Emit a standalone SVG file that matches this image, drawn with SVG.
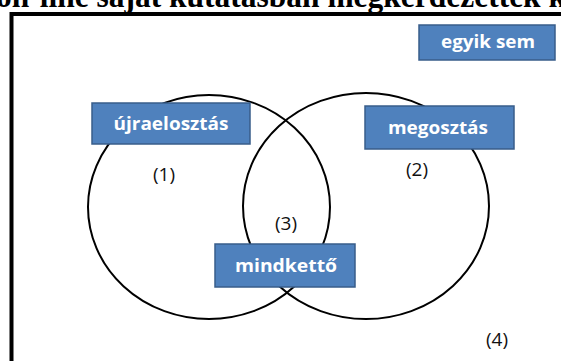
<svg xmlns="http://www.w3.org/2000/svg" width="561" height="361" viewBox="0 0 561 361">
<style>
.title{font-family:"Liberation Serif",serif;font-weight:bold;font-size:34px;fill:#000}
.box{fill:#4F81BD;stroke:#385D8A;stroke-width:1.5}
.bt{font-family:"Open Sans","Liberation Sans",sans-serif;font-weight:bold;font-size:17px;fill:#fff;text-anchor:middle}
.num{font-family:"Open Sans","Liberation Sans",sans-serif;font-size:19px;fill:#111;text-anchor:middle}
.circ{fill:none;stroke:#000;stroke-width:2}
</style>
<rect width="561" height="361" fill="#fff"/>
<text class="title" x="-4" y="7" textLength="570" lengthAdjust="spacingAndGlyphs">on-line saját kutatásban megkérdezettek k</text>
<rect x="11.5" y="14" width="600" height="400" fill="#fff" stroke="#000" stroke-width="4"/>
<g id="connectors">
<ellipse class="circ" cx="209" cy="207" rx="121" ry="112"/>
<ellipse class="circ" cx="366" cy="206" rx="123" ry="113"/>
</g>
<g id="ujraelosztas">
<rect class="box" x="92" y="103" width="158" height="41"/>
<text class="bt" x="171" y="130" textLength="115" lengthAdjust="spacingAndGlyphs">újraelosztás</text>
</g>
<g id="megosztas">
<rect class="box" x="365" y="106" width="149" height="43"/>
<text class="bt" x="438" y="134" textLength="100" lengthAdjust="spacingAndGlyphs">megosztás</text>
</g>
<g id="mindketto">
<rect class="box" x="215" y="244" width="140" height="43"/>
<text class="bt" x="286" y="272" textLength="102" lengthAdjust="spacingAndGlyphs">mindkettő</text>
</g>
<g id="egyiksem">
<rect class="box" x="419" y="25" width="136" height="35"/>
<text class="bt" x="488" y="48" textLength="94" lengthAdjust="spacingAndGlyphs">egyik sem</text>
</g>
<g id="labels">
<text class="num" x="164" y="181">(1)</text>
<text class="num" x="417" y="176">(2)</text>
<text class="num" x="286" y="230">(3)</text>
<text class="num" x="497" y="346">(4)</text>
</g>
</svg>
